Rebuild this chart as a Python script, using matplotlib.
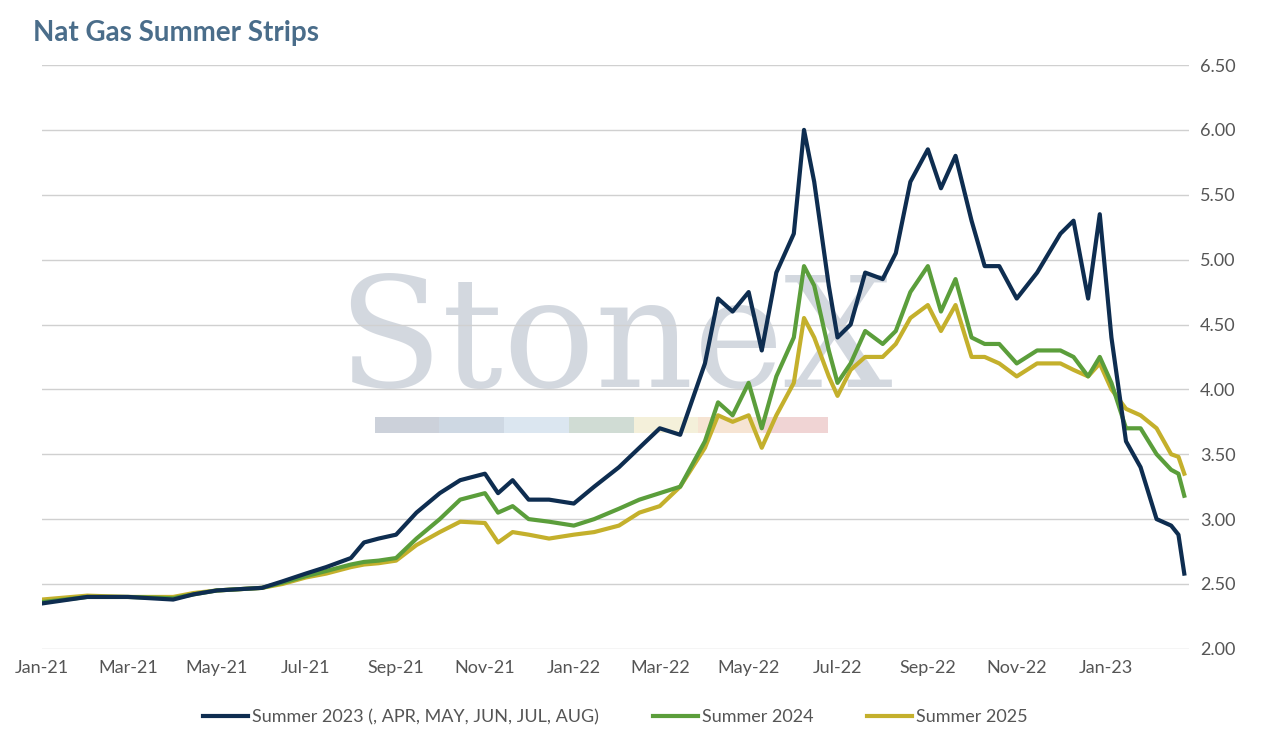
import matplotlib
matplotlib.use("Agg")
import matplotlib.pyplot as plt
import matplotlib.dates as mdates
import pandas as pd

plt.rcParams['font.family'] = ['Lato', 'DejaVu Sans']

dates = pd.to_datetime([
    "2021-01-01","2021-02-01","2021-03-01","2021-04-01","2021-04-15","2021-05-01","2021-06-01","2021-06-15",
    "2021-07-01","2021-07-15","2021-08-01","2021-08-10","2021-08-20","2021-09-01","2021-09-15","2021-10-01",
    "2021-10-15","2021-11-01","2021-11-10","2021-11-20","2021-12-01","2021-12-15","2022-01-01","2022-01-15",
    "2022-02-01","2022-02-15","2022-03-01","2022-03-15","2022-04-01","2022-04-10","2022-04-20","2022-05-01",
    "2022-05-10","2022-05-20","2022-06-01","2022-06-08","2022-06-15","2022-06-25","2022-07-01","2022-07-10",
    "2022-07-20","2022-08-01","2022-08-10","2022-08-20","2022-09-01","2022-09-10","2022-09-20","2022-10-01",
    "2022-10-10","2022-10-20","2022-11-01","2022-11-15","2022-12-01","2022-12-10","2022-12-20","2022-12-28",
    "2023-01-05","2023-01-15","2023-01-25","2023-02-05","2023-02-15","2023-02-20","2023-02-24"])

s2023 = [2.35,2.40,2.40,2.38,2.42,2.45,2.47,2.52,2.58,2.63,2.70,2.82,2.85,2.88,3.05,3.20,
         3.30,3.35,3.20,3.30,3.15,3.15,3.12,3.25,3.40,3.55,3.70,3.65,4.20,4.70,4.60,4.75,
         4.30,4.90,5.20,6.00,5.60,4.80,4.40,4.50,4.90,4.85,5.05,5.60,5.85,5.55,5.80,5.30,
         4.95,4.95,4.70,4.90,5.20,5.30,4.70,5.35,4.40,3.60,3.40,3.00,2.95,2.88,2.58]
s2024 = [2.36,2.40,2.40,2.39,2.42,2.45,2.47,2.51,2.56,2.60,2.65,2.67,2.68,2.70,2.85,3.00,
         3.15,3.20,3.05,3.10,3.00,2.98,2.95,3.00,3.08,3.15,3.20,3.25,3.60,3.90,3.80,4.05,
         3.70,4.10,4.40,4.95,4.80,4.30,4.05,4.20,4.45,4.35,4.45,4.75,4.95,4.60,4.85,4.40,
         4.35,4.35,4.20,4.30,4.30,4.25,4.10,4.25,4.05,3.70,3.70,3.50,3.38,3.35,3.18]
s2025 = [2.38,2.41,2.40,2.40,2.43,2.45,2.47,2.50,2.55,2.58,2.63,2.65,2.66,2.68,2.80,2.90,
         2.98,2.97,2.82,2.90,2.88,2.85,2.88,2.90,2.95,3.05,3.10,3.25,3.55,3.80,3.75,3.80,
         3.55,3.80,4.05,4.55,4.40,4.10,3.95,4.15,4.25,4.25,4.35,4.55,4.65,4.45,4.65,4.25,
         4.25,4.20,4.10,4.20,4.20,4.15,4.10,4.20,4.00,3.85,3.80,3.70,3.50,3.48,3.35]

fig = plt.figure(figsize=(12.74, 7.39), dpi=100)
ax = fig.add_axes([0.033, 0.122, 0.90, 0.79])

# watermark
ax.text(0.5, 0.52, "StoneX", transform=ax.transAxes, ha="center", va="center",
        fontsize=110, family="DejaVu Serif", color="#c9cfd8", alpha=0.8, zorder=0)
wm_cols = ["#c7ccd6", "#c9d4e0", "#d8e4ef", "#cbd9d0", "#f3efd6", "#f5e2cf", "#efd0d0"]
for i, c in enumerate(wm_cols):
    ax.add_patch(plt.Rectangle((0.29 + i*0.0565, 0.37), 0.0565, 0.027, transform=ax.transAxes,
                               color=c, alpha=0.9, zorder=0, lw=0))

ax.plot(dates, s2023, color="#0e2d50", lw=3, label="Summer 2023 (, APR, MAY, JUN, JUL, AUG)", zorder=4)
ax.plot(dates, s2024, color="#5b9e3b", lw=3, label="Summer 2024", zorder=3)
ax.plot(dates, s2025, color="#c4b02c", lw=3, label="Summer 2025", zorder=2)

ax.set_ylim(2.0, 6.5)
ax.set_yticks([2.0 + 0.5*i for i in range(10)])
ax.yaxis.set_major_formatter(matplotlib.ticker.FormatStrFormatter("%.2f"))
ax.yaxis.tick_right()
ax.set_xlim(pd.Timestamp("2021-01-01"), pd.Timestamp("2023-02-27"))
ax.xaxis.set_major_locator(mdates.MonthLocator(bymonth=[1, 3, 5, 7, 9, 11]))
ax.xaxis.set_major_formatter(mdates.DateFormatter("%b-%y"))
ax.grid(axis="y", color="#d0d0d0", lw=1)
ax.set_axisbelow(True)
for sp in ax.spines.values():
    sp.set_visible(False)
ax.tick_params(length=0, labelsize=13, colors="#555555", pad=8)

fig.text(0.026, 0.955, "Nat Gas Summer Strips", fontsize=20, fontweight="bold", color="#4a6d8a", va="center")
ax.legend(loc="upper center", bbox_to_anchor=(0.5, -0.075), ncol=3, frameon=False, fontsize=13,
          handlelength=2.5, columnspacing=3, labelcolor="#555555", handletextpad=0.2)

fig.savefig("out.png", dpi=100)
